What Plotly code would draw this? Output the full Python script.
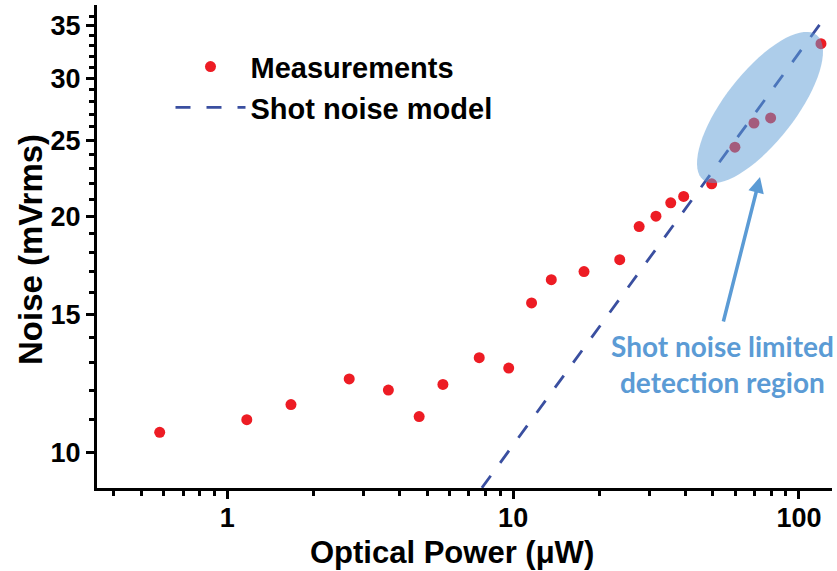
import math
import plotly.graph_objects as go

# Measured photodetector noise vs. incident optical power
power_uw = [0.58, 1.17, 1.67, 2.67, 3.66, 4.69, 5.68, 7.61, 9.65, 11.6,
            13.6, 17.7, 23.6, 27.6, 31.6, 35.6, 39.5, 49.5, 59.7, 69.6,
            79.6, 119.4]
noise_mvrms = [10.6, 11.0, 11.5, 12.4, 12.0, 11.1, 12.2, 13.2, 12.8, 15.5,
               16.6, 17.0, 17.6, 19.4, 20.0, 20.8, 21.2, 22.0, 24.5, 26.3,
               26.7, 33.2]

# Shot noise model (noise ~ sqrt(P)), straight line on log-log axes
model_power_uw = [5.0, 118.0]
model_noise_mvrms = [7.22, 35.09]

x_major = [1, 10, 100]
x_minor = [0.4, 0.5, 0.6, 0.7, 0.8, 0.9, 2, 3, 4, 5, 6, 7, 8, 9,
           20, 30, 40, 50, 60, 70, 80, 90]
y_major = [10, 15, 20, 25, 30, 35]
y_minor = [11, 12, 13, 14, 16, 17, 18, 19, 21, 22, 23, 24, 26, 27, 28, 29,
           31, 32, 33, 34, 36]

RED = "rgb(237,28,36)"
NAVY = "rgb(58,79,160)"
SKY = "rgb(91,155,213)"
BOLD = dict(family="Liberation Sans, Arial, sans-serif", weight="bold", color="black")

W, H = 837, 571
ML, MR, MT, MB = 97, 5, 5, 83
PW, PH = W - ML - MR, H - MT - MB

fig = go.Figure()
fig.add_trace(go.Scatter(
    x=power_uw, y=noise_mvrms, mode="markers", name="Measurements",
    marker=dict(color=RED, size=11, line=dict(width=0)),
))
fig.add_trace(go.Scatter(
    x=model_power_uw, y=model_noise_mvrms, mode="lines", name="Shot noise model",
    line=dict(color=NAVY, width=2.8, dash="15px,16px"),
))


def to_paper(px, py):
    return (px - ML) / PW, 1 - (py - MT) / PH


# Tilted translucent ellipse highlighting the shot-noise-limited region
cx, cy, a, b, th = 760.0, 107.5, 92.0, 35.0, math.radians(52)
pts = []
for k in range(73):
    phi = 2 * math.pi * k / 72
    px = cx + a * math.cos(phi) * math.cos(th) - b * math.sin(phi) * math.sin(th)
    py = cy - (a * math.cos(phi) * math.sin(th) + b * math.sin(phi) * math.cos(th))
    pts.append(to_paper(px, py))
path = "M" + " L".join(f"{x:.5f},{y:.5f}" for x, y in pts) + " Z"
fig.add_shape(type="path", path=path, xref="paper", yref="paper",
              fillcolor="rgba(91,155,213,0.5)", line=dict(width=0), layer="above")

hx, hy = to_paper(760, 177)
fig.add_annotation(x=hx, y=hy, xref="paper", yref="paper", text="",
                   showarrow=True, arrowhead=2, arrowsize=0.9, arrowwidth=3.5,
                   arrowcolor=SKY, ax=-37, ay=146)
tx, ty = to_paper(722, 364)
fig.add_annotation(x=tx, y=ty, xref="paper", yref="paper",
                   text="Shot noise limited<br>detection region", showarrow=False,
                   font=dict(family="Lato, Open Sans, sans-serif", weight="bold",
                             size=28, color=SKY),
                   align="center", xanchor="center", yanchor="middle")

# Axis titles
xt, yt = to_paper(452, 552)
fig.add_annotation(x=xt, y=yt, xref="paper", yref="paper",
                   text="Optical Power (\u03bcW)", showarrow=False,
                   font=dict(BOLD, size=31), xanchor="center", yanchor="middle")
xt, yt = to_paper(30, 250)
fig.add_annotation(x=xt, y=yt, xref="paper", yref="paper",
                   text="Noise (mVrms)", showarrow=False, textangle=-90,
                   font=dict(BOLD, size=33), xanchor="center", yanchor="middle")

axis_common = dict(
    type="log", showgrid=False, zeroline=False, showline=True, linecolor="black",
    linewidth=3, ticks="outside", ticklen=8, tickwidth=3, tickcolor="black",
    tickfont=dict(BOLD, size=27), mirror=False, automargin=False,
)
fig.update_xaxes(
    **axis_common,
    range=[math.log10(0.35), math.log10(130.5)],
    tickvals=x_major, ticktext=[str(v) for v in x_major],
    ticklabelstandoff=-4,
    minor=dict(tickvals=x_minor, ticklen=5, tickwidth=2.5, tickcolor="black",
               ticks="outside", showgrid=False),
)
fig.update_yaxes(
    **axis_common,
    range=[math.log10(9.0), math.log10(37.2)],
    tickvals=y_major, ticktext=[str(v) for v in y_major],
    minor=dict(tickvals=y_minor, ticklen=5, tickwidth=2.5, tickcolor="black",
               ticks="outside", showgrid=False),
)

fig.update_layout(
    width=W, height=H, margin=dict(l=ML, r=MR, t=MT, b=MB),
    paper_bgcolor="white", plot_bgcolor="white",
    showlegend=True,
    legend=dict(x=0.1, y=0.925, xanchor="left", yanchor="top",
                font=dict(BOLD, size=29), bgcolor="rgba(0,0,0,0)",
                itemwidth=70, tracegroupgap=0),
)

fig.write_html("out.html")
